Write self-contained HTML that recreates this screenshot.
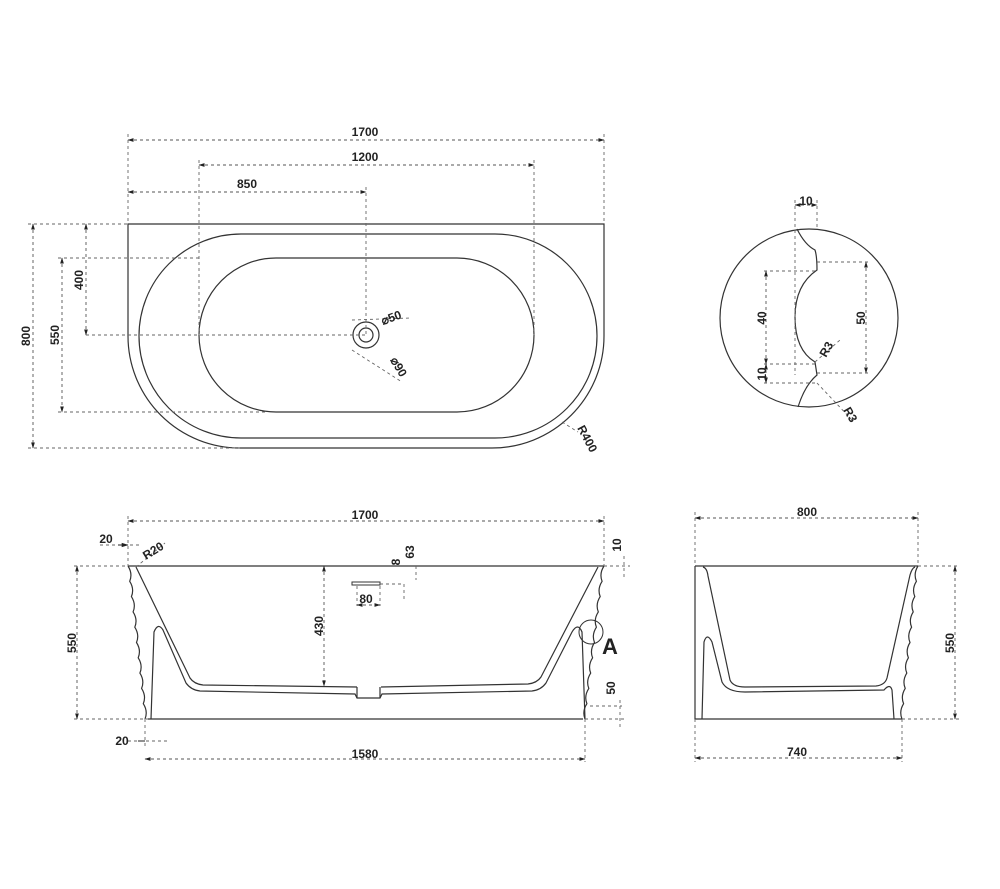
<!DOCTYPE html>
<html><head><meta charset="utf-8"><style>
html,body{margin:0;padding:0;background:#fff}
svg{display:block}
text{font-family:"Liberation Sans",sans-serif;font-weight:bold;font-size:12px;fill:#222}
.s{fill:none;stroke:#333;stroke-width:1.2}
.d{fill:none;stroke:#666;stroke-width:0.9;stroke-dasharray:3,3}
.a{fill:none;stroke:#555;stroke-width:0.9;stroke-dasharray:3,3;marker-start:url(#m);marker-end:url(#m)}
</style></head><body>
<svg width="1000" height="889" viewBox="0 0 1000 889" xmlns="http://www.w3.org/2000/svg">
<defs><marker id="m" viewBox="0 0 10 10" refX="9" refY="5" markerWidth="7" markerHeight="7" orient="auto-start-reverse"><path d="M0,2 L10,5 L0,8z" fill="#222"/></marker></defs>

<!-- TOP VIEW -->
<path class="s" d="M128,224 H604 V336 A112,112 0 0 1 492,448 H240 A112,112 0 0 1 128,336 Z"/>
<rect class="s" x="139" y="234" width="458" height="204" rx="102" ry="102"/>
<rect class="s" x="199" y="258" width="335" height="154" rx="77" ry="77"/>
<circle class="s" cx="366" cy="335" r="13"/>
<circle class="s" cx="366" cy="335" r="7"/>
<path class="a" d="M128,140 H604"/><text x="365" y="136" text-anchor="middle">1700</text>
<path class="a" d="M199,165 H534"/><text x="365" y="161" text-anchor="middle">1200</text>
<path class="a" d="M128,192 H366"/><text x="247" y="188" text-anchor="middle">850</text>
<path class="d" d="M128,134 V224 M604,134 V224 M199,160 V335 M534,160 V335 M366,187 V335"/>
<path class="a" d="M33,224 V448"/><path class="a" d="M62,258 V412"/><path class="a" d="M86,224 V335"/>
<path class="d" d="M28,224 H128 M58,258 H199 M58,412 H265 M86,335 H366 M28,448 H240"/>
<text transform="translate(30,336) rotate(-90)" text-anchor="middle">800</text>
<text transform="translate(59,335) rotate(-90)" text-anchor="middle">550</text>
<text transform="translate(83,280) rotate(-90)" text-anchor="middle">400</text>
<path class="d" d="M352,320 L410,318 M352,350 L402,382"/>
<text transform="translate(383,325) rotate(-20)">⌀50</text>
<text transform="translate(390,360) rotate(60)">⌀90</text>
<path class="d" d="M562,422 L578,432"/>
<text transform="translate(577,428) rotate(62)">R400</text>

<!-- DETAIL A -->
<circle class="s" cx="809" cy="318" r="89"/>
<path class="s" d="M797,229 Q805,245 815,250 Q817,256 817,270 Q795,285 795,317 Q795,350 815,362 L817,375 Q805,385 798,407"/>
<path class="a" d="M795,205 H817"/><text x="806" y="205" text-anchor="middle">10</text>
<path class="d" d="M795,200 V375 M817,200 V229"/>
<path class="a" d="M866,262 V373"/><path class="d" d="M817,262 H868 M817,373 H868"/>
<text transform="translate(865,318) rotate(-90)" text-anchor="middle">50</text>
<path class="a" d="M766,271 V364"/><path class="a" d="M766,364 V383"/>
<path class="d" d="M764,271 H817 M764,364 H815 M764,383 H815"/>
<text transform="translate(766,318) rotate(-90)" text-anchor="middle">40</text>
<text transform="translate(766,374) rotate(-90)" text-anchor="middle">10</text>
<path class="d" d="M815,362 L840,340 M817,383 L852,420"/>
<text transform="translate(826,358) rotate(-60)">R3</text>
<text transform="translate(843,410) rotate(60)">R3</text>

<!-- FRONT VIEW -->
<path class="s" d="M128,566 H604 M148,719 H583"/>
<path class="s" d="M128,566 q4.85,7.65 1.7,15.3 q4.85,7.65 1.7,15.3 q4.85,7.65 1.7,15.3 q4.85,7.65 1.7,15.3 q4.85,7.65 1.7,15.3 q4.85,7.65 1.7,15.3 q4.85,7.65 1.7,15.3 q4.85,7.65 1.7,15.3 q4.85,7.65 1.7,15.3 q4.85,7.65 1.7,15.3"/>
<path class="s" d="M604,566 q-4.95,7.65 -1.9,15.3 q-4.95,7.65 -1.9,15.3 q-4.95,7.65 -1.9,15.3 q-4.95,7.65 -1.9,15.3 q-4.95,7.65 -1.9,15.3 q-4.95,7.65 -1.9,15.3 q-4.95,7.65 -1.9,15.3 q-4.95,7.65 -1.9,15.3 q-4.95,7.65 -1.9,15.3 q-4.95,7.65 -1.9,15.3"/>
<path class="s" d="M136,567 L190,678 Q194,684 203,685 L357,687 M381,687 L528,684 Q537,683 541,677 L598,567"/>
<path class="s" d="M151,719 L154,632 Q158,622 163,630 L186,683 Q191,690 200,691 L355,694 L357,698 L380,698 L382,694 L532,691 Q541,690 546,683 L572,632 Q578,622 582,632 L585,719"/>
<path class="s" d="M357,687 L357,698 M380,687 L380,698"/>
<rect x="352" y="582" width="28" height="3" fill="none" stroke="#333" stroke-width="1"/>
<path class="a" d="M128,521 H604"/><text x="365" y="519" text-anchor="middle">1700</text>
<path class="d" d="M128,516 V566 M604,516 V566"/>
<path class="d" d="M100,545 H140"/><path d="M118,545 L128,545" stroke="#222" marker-end="url(#m)"/>
<text x="106" y="543" text-anchor="middle">20</text>
<path class="d" d="M136,567 L165,543"/>
<text transform="translate(146,560) rotate(-32)">R20</text>
<path class="a" d="M77,566 V719"/><path class="d" d="M74,566 H128 M74,719 H148"/>
<text transform="translate(76,643) rotate(-90)" text-anchor="middle">550</text>
<path class="a" d="M324,566 V686"/>
<text transform="translate(323,626) rotate(-90)" text-anchor="middle">430</text>
<path class="d" d="M380,584 H404 M404,584 V600 M416,566 V580"/>
<text transform="translate(400,562) rotate(-90)" text-anchor="middle">8</text>
<text transform="translate(414,552) rotate(-90)" text-anchor="middle">63</text>
<path class="d" d="M357,586 V606 M380,586 V606"/><path class="a" d="M357,605 H380"/>
<text x="366" y="603" text-anchor="middle">80</text>
<path class="d" d="M604,566 H630 M624,556 V578"/>
<text transform="translate(621,545) rotate(-90)" text-anchor="middle">10</text>
<path class="d" d="M590,706 H622 M620,700 V730 M585,719 H625"/>
<text transform="translate(615,688) rotate(-90)" text-anchor="middle">50</text>
<path class="d" d="M145,719 V748 M128,741 H170"/><path d="M138,741 L145,741" stroke="#222"/>
<text x="122" y="745" text-anchor="middle">20</text>
<path class="a" d="M145,759 H585"/><path class="d" d="M585,719 V762"/>
<text x="365" y="758" text-anchor="middle">1580</text>
<circle cx="591" cy="632" r="12" fill="none" stroke="#333" stroke-width="1"/>
<text x="602" y="654" style="font-size:22px">A</text>

<!-- SIDE VIEW -->
<path class="s" d="M695,566 H918 M695,566 V719 H902"/>
<path class="s" d="M918,566 q-4.75,7.65 -1.6,15.3 q-4.75,7.65 -1.6,15.3 q-4.75,7.65 -1.6,15.3 q-4.75,7.65 -1.6,15.3 q-4.75,7.65 -1.6,15.3 q-4.75,7.65 -1.6,15.3 q-4.75,7.65 -1.6,15.3 q-4.75,7.65 -1.6,15.3 q-4.75,7.65 -1.6,15.3 q-4.75,7.65 -1.6,15.3"/>
<path class="s" d="M703,567 Q707,568 708,576 L730,680 Q733,687 745,687 L876,686 Q885,685 887,678 L910,575 Q912,568 915,567"/>
<path class="s" d="M702,719 L704,642 Q707,632 712,642 L722,682 Q727,692 745,692 L884,690 Q890,683 892,690 L894,719"/>
<path class="a" d="M695,518 H918"/><text x="807" y="516" text-anchor="middle">800</text>
<path class="d" d="M695,512 V566 M918,512 V566"/>
<path class="a" d="M955,566 V719"/><path class="d" d="M918,566 H960 M902,719 H960"/>
<text transform="translate(954,643) rotate(-90)" text-anchor="middle">550</text>
<path class="a" d="M695,758 H902"/><path class="d" d="M695,719 V762 M902,719 V762"/>
<text x="797" y="756" text-anchor="middle">740</text>
</svg>
</body></html>
